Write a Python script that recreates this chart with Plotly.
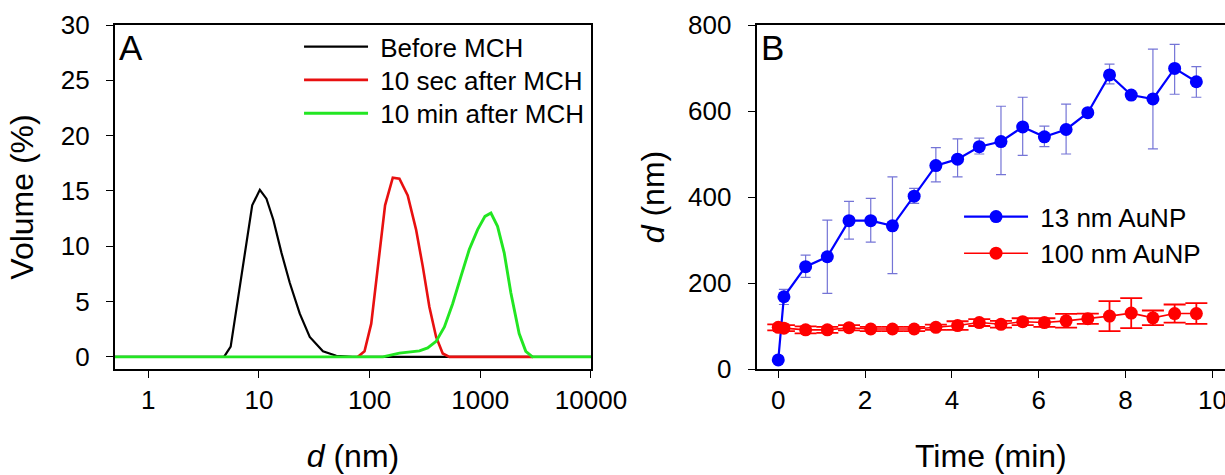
import plotly.graph_objects as go

# ---------------- Panel A data (DLS volume distributions) ----------------
size_before_nm = [0.5, 4.84, 5.56, 6.3, 7.5, 8.7, 10.2, 11.7, 13.5, 16.0, 19.0, 23.4, 28.8, 37.9, 50, 70, 10000]
vol_before = [0, 0, 0.93, 4.5, 9.8, 13.7, 15.1, 14.3, 12.4, 9.4, 6.7, 3.9, 1.8, 0.5, 0.1, 0, 0]

size_10s_nm = [78.5, 90, 103.5, 119, 138, 162, 186, 221, 263, 302, 347, 399, 458, 526, 3000]
vol_10s = [0, 0.5, 3.0, 8.2, 13.7, 16.2, 16.1, 14.6, 11.5, 8.2, 4.5, 1.8, 0.3, 0, 0]

size_10m_nm = [0.5, 132, 186, 282, 335, 399, 474, 563, 670, 795, 946, 1102, 1248, 1432, 1645, 1889, 2245, 2577, 2958, 10000]
vol_10m = [0, 0, 0.33, 0.54, 0.8, 1.4, 2.7, 4.8, 7.3, 9.7, 11.5, 12.7, 13.0, 11.8, 9.4, 5.8, 2.1, 0.5, 0, 0]

labels_a = ["Before MCH", "10 sec after MCH", "10 min after MCH"]
xticks_a = [1, 10, 100, 1000, 10000]
xticktext_a = ["1", "10", "100", "1000", "10000"]
yticks_a = [0, 5, 10, 15, 20, 25, 30]

# ---------------- Panel B data (size vs time) ----------------
time_min = [0, 0.13, 0.63, 1.13, 1.63, 2.13, 2.63, 3.13, 3.63, 4.13, 4.63,
            5.13, 5.63, 6.13, 6.63, 7.13, 7.63, 8.13, 8.63, 9.13, 9.63]
d13 = [21, 168, 238, 261, 345, 345, 333, 402, 473, 488, 517,
       529, 563, 540, 557, 596, 684, 637, 628, 699, 668]
d13_err_plus = [0, 17, 27, 85, 45, 52, 114, 18, 42, 47, 20,
                82, 69, 25, 59, 0, 25, 0, 116, 56, 35]
d13_err_minus = [0, 18, 25, 85, 43, 50, 111, 17, 38, 41, 17,
                 77, 66, 23, 57, 0, 21, 0, 116, 60, 36]
d100 = [97, 95, 91, 91, 96, 93, 93, 93, 97, 101, 108,
        104, 110, 108, 112, 117, 123, 130, 119, 129, 129]
d100_err = [7, 7, 8, 7, 6, 5, 5, 5, 6, 10, 8,
            8, 8, 10, 16, 12, 35, 35, 17, 21, 24]
labels_b = ["13 nm AuNP", "100 nm AuNP"]
xticks_b = [0, 2, 4, 6, 8, 10]
yticks_b = [0, 200, 400, 600, 800]

FONT = "Liberation Sans, Arial, sans-serif"
NB = "\u00a0"

fig = go.Figure()

fig.add_trace(go.Scatter(x=size_before_nm, y=vol_before, mode="lines", name=NB + labels_a[0],
                         line=dict(color="black", width=2.2), xaxis="x", yaxis="y", legend="legend"))
fig.add_trace(go.Scatter(x=size_10s_nm, y=vol_10s, mode="lines", name=NB + labels_a[1],
                         line=dict(color="#e81010", width=2.6), xaxis="x", yaxis="y", legend="legend2"))
fig.add_trace(go.Scatter(x=size_10m_nm, y=vol_10m, mode="lines", name=NB + labels_a[2],
                         line=dict(color="#22e622", width=2.9), xaxis="x", yaxis="y", legend="legend3"))

fig.add_trace(go.Scatter(x=time_min, y=d13, mode="lines+markers", name=NB + labels_b[0],
                         line=dict(color="#0000ff", width=2.2),
                         marker=dict(color="#0000ff", size=13),
                         error_y=dict(type="data", array=d13_err_plus, arrayminus=d13_err_minus,
                                      color="rgba(70,70,200,0.75)", thickness=1.2, width=5),
                         xaxis="x2", yaxis="y2", legend="legend4"))
fig.add_trace(go.Scatter(x=time_min, y=d100, mode="lines+markers", name=NB + labels_b[1],
                         line=dict(color="#ff0000", width=1.6),
                         marker=dict(color="#ff0000", size=13),
                         error_y=dict(type="data", array=d100_err, color="#ff0000",
                                      thickness=1.8, width=11),
                         xaxis="x2", yaxis="y2", legend="legend5"))

axis_common = dict(showline=True, linecolor="black", linewidth=2.2, mirror=True,
                   ticks="outside", ticklen=7, tickwidth=1.2, tickcolor="black",
                   showgrid=False, zeroline=False, automargin=False,
                   ticklabeloverflow="allow",
                   tickfont=dict(family=FONT, size=26, color="black"))

legend_common = dict(xanchor="left", yanchor="middle", bgcolor="rgba(0,0,0,0)",
                     font=dict(family=FONT, size=26, color="black"), itemwidth=64)

PLOT_TOP, PLOT_H = 25, 344


def py(pix):
    return 1 - (pix - PLOT_TOP) / PLOT_H


fig.update_layout(
    width=1225, height=475, autosize=False,
    margin=dict(l=115, r=0, t=25, b=106, autoexpand=False),
    paper_bgcolor="white", plot_bgcolor="white",
    font=dict(family=FONT, color="black"),
    showlegend=True,
    xaxis=dict(domain=[0, 0.4288], type="log", range=[-0.30, 4.0],
               tickvals=xticks_a, ticktext=xticktext_a, ticklabelstandoff=0,
               title=dict(text="<i>d</i> (nm)", font=dict(size=32), standoff=30),
               anchor="y", **axis_common),
    yaxis=dict(domain=[0, 1], range=[-1.1, 30], tickvals=yticks_a, ticklabelstandoff=11,
               title=dict(text="Volume (%)", font=dict(size=32), standoff=18),
               anchor="x", **axis_common),
    xaxis2=dict(domain=[0.5781, 1], range=[-0.497, 10.29], tickvals=xticks_b, ticklabelstandoff=0,
                title=dict(text="Time (min)", font=dict(size=32), standoff=30),
                anchor="y2", **axis_common),
    yaxis2=dict(domain=[0, 1], range=[0, 800], tickvals=yticks_b, ticklabelstandoff=11,
                title=dict(text="<i>d</i> (nm)", font=dict(size=32), standoff=14),
                anchor="x2", **axis_common),
    legend=dict(x=0.1658, y=py(46.7), **legend_common),
    legend2=dict(x=0.1658, y=py(80), **legend_common),
    legend3=dict(x=0.1658, y=py(113.3), **legend_common),
    legend4=dict(x=0.7604, y=py(216.7), **legend_common),
    legend5=dict(x=0.7604, y=py(253.3), **legend_common),
    annotations=[
        dict(text="A", xref="x domain", yref="paper", x=0.004, y=py(47.5), xanchor="left",
             yanchor="middle", showarrow=False, font=dict(family=FONT, size=35, color="black")),
        dict(text="B", xref="x2 domain", yref="paper", x=0.005, y=py(47.5), xanchor="left",
             yanchor="middle", showarrow=False, font=dict(family=FONT, size=35, color="black")),
    ],
)

fig.write_html("out.html", config={"displayModeBar": False, "responsive": False},
               post_script="document.body.style.margin='0';document.body.style.overflow='hidden';")
